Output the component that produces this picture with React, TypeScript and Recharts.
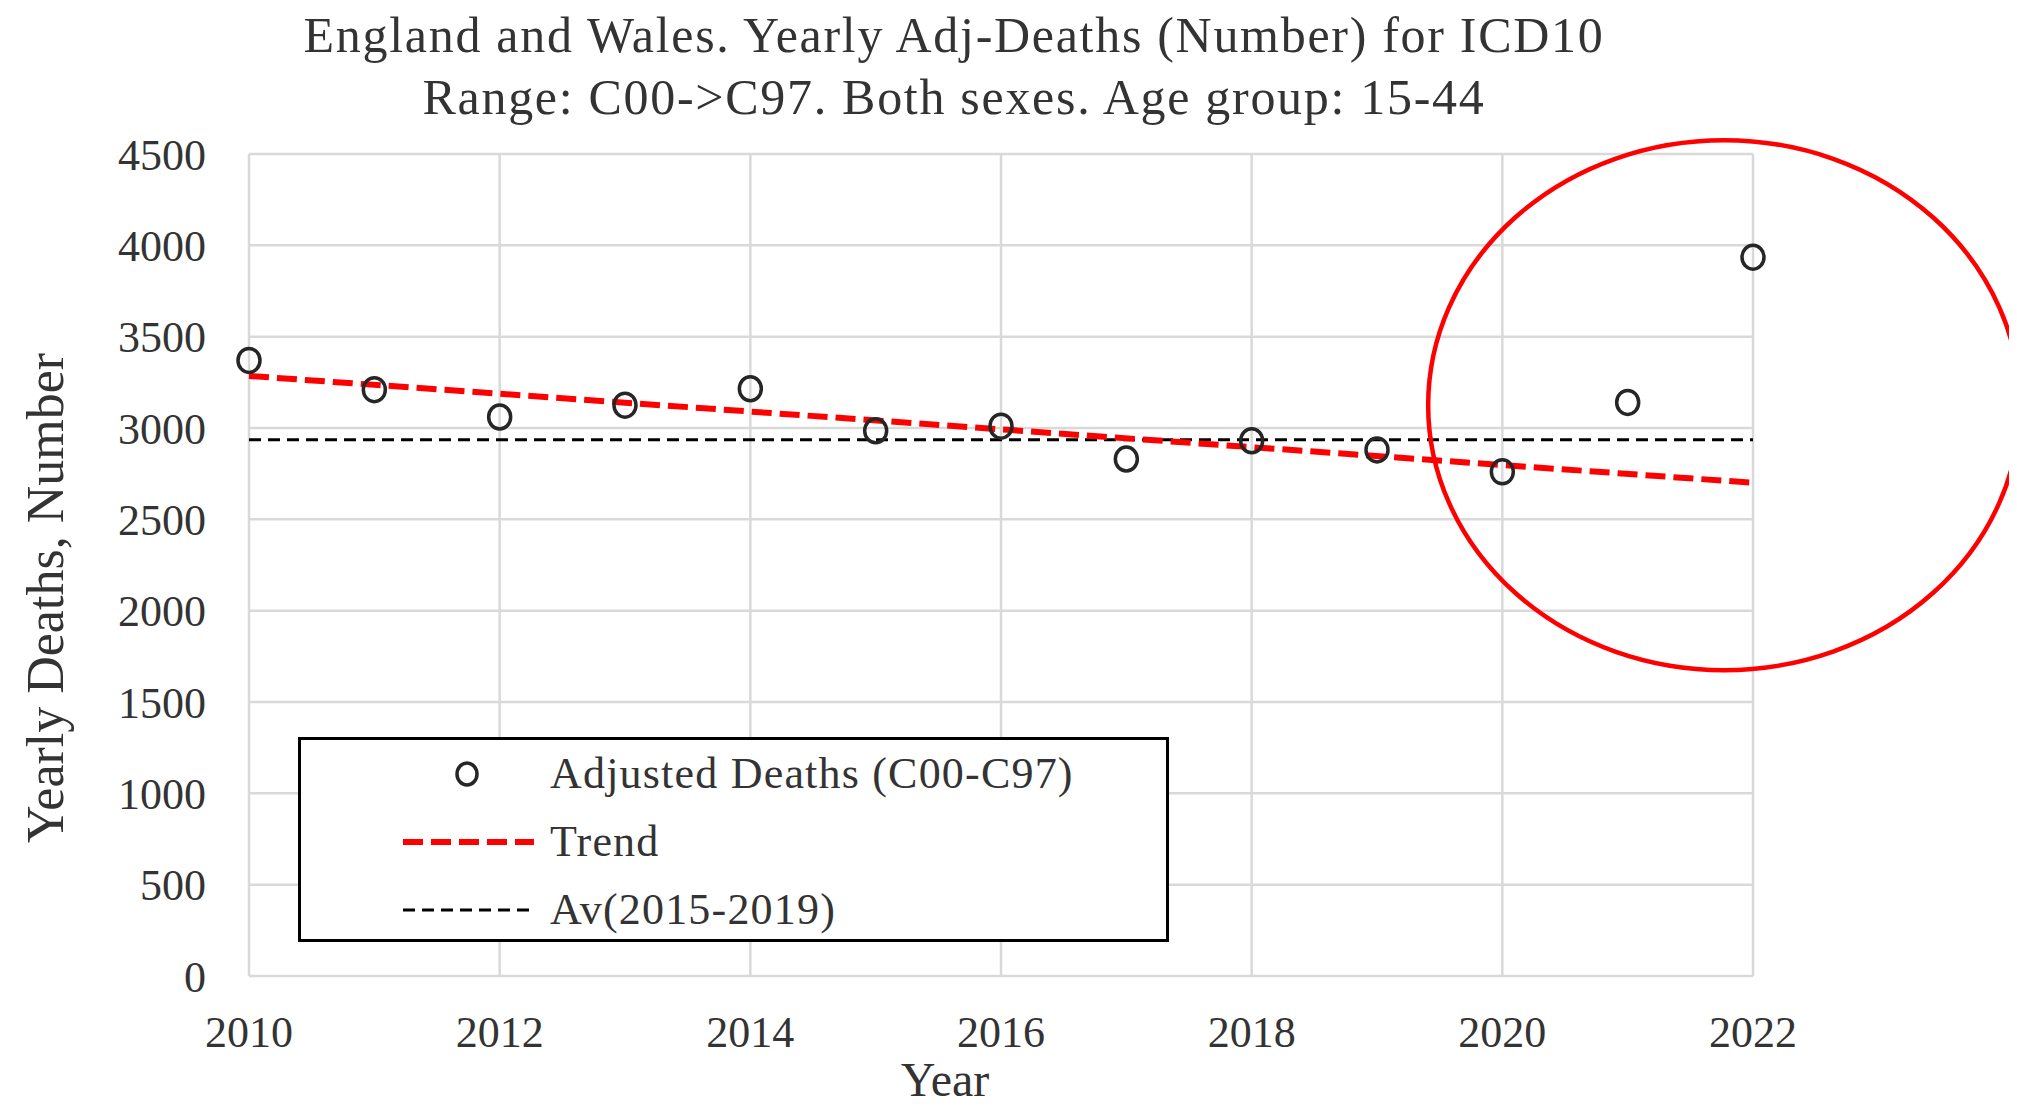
import {
  CartesianGrid,
  ComposedChart,
  Legend,
  Line,
  ReferenceDot,
  Scatter,
  XAxis,
  YAxis,
} from "recharts";

const years = [2010, 2011, 2012, 2013, 2014, 2015, 2016, 2017, 2018, 2019, 2020, 2021, 2022];
const adjDeaths = [3370, 3210, 3060, 3125, 3215, 2985, 3010, 2830, 2930, 2880, 2760, 3140, 3935];
const trendYears = [2010, 2022];
const trendValues = [3285, 2700];
const avgYears = [2010, 2022];
const avgValue = 2935;
const xTicks = [2010, 2012, 2014, 2016, 2018, 2020, 2022];
const yTicks = [0, 500, 1000, 1500, 2000, 2500, 3000, 3500, 4000, 4500];
// centre of the hand-drawn highlight
const highlight = { year: 2021.77, value: 3125 };

const deathPoints = years.map((year, i) => ({ year, deaths: adjDeaths[i] }));
const trendPoints = trendYears.map((year, i) => ({ year, value: trendValues[i] }));
const avgPoints = avgYears.map((year) => ({ year, value: avgValue }));

const FONT = '"Liberation Serif", "Times New Roman", serif';
const TEXT = "#333";

function Ring(props: any) {
  return (
    <ellipse cx={props.cx} cy={props.cy} rx={11} ry={12} fill="none" stroke="#262626" strokeWidth={3.5} />
  );
}

function LegendBox() {
  const row = (top: number, icon: any, label: string) => (
    <div style={{ position: "absolute", top, left: 0, height: 68, width: "100%" }}>
      <svg width={240} height={68} style={{ position: "absolute", left: 0, top: 0 }}>
        {icon}
      </svg>
      <span style={{ position: "absolute", left: 249, top: 6, lineHeight: "56px", whiteSpace: "nowrap" }}>
        {label}
      </span>
    </div>
  );
  return (
    <div
      style={{
        position: "relative",
        width: 871,
        height: 205,
        boxSizing: "border-box",
        border: "3px solid #000",
        background: "#fff",
        fontFamily: FONT,
        fontSize: 44,
        letterSpacing: 1.2,
        color: TEXT,
      }}
    >
      {row(0, <ellipse cx={166} cy={34} rx={10} ry={11} fill="none" stroke="#262626" strokeWidth={3.5} />, "Adjusted Deaths (C00-C97)")}
      {row(68, <line x1={102} x2={233} y1={34} y2={34} stroke="#ff0000" strokeWidth={6} strokeDasharray="20 8" />, "Trend")}
      {row(136, <line x1={102} x2={233} y1={34} y2={34} stroke="#000" strokeWidth={3} strokeDasharray="12 7" />, "Av(2015-2019)")}
    </div>
  );
}

export default function App() {
  return (
    <div style={{ position: "relative", margin: -8, width: 2017, height: 1110, background: "#fff" }}>
      <div
        style={{
          position: "absolute",
          top: 4,
          left: 0,
          width: 1908,
          textAlign: "center",
          fontFamily: FONT,
          fontSize: 50,
          letterSpacing: 1.7,
          lineHeight: "62px",
          color: TEXT,
        }}
      >
        England and Wales. Yearly Adj-Deaths (Number) for ICD10
        <br />
        Range: C00-&gt;C97. Both sexes. Age group: 15-44
      </div>
      <ComposedChart
        width={2017}
        height={1110}
        margin={{ top: 154, right: 264, left: 0, bottom: 0 }}
        style={{ position: "absolute", top: 0, left: 0 }}
      >
        <CartesianGrid stroke="#d9d9d9" strokeWidth={2.5} />
        <XAxis
          type="number"
          dataKey="year"
          domain={[2010, 2022]}
          ticks={xTicks}
          axisLine={false}
          tickLine={false}
          tickSize={0}
          tickMargin={40}
          height={134}
          tick={{ fill: TEXT, fontSize: 44, fontFamily: FONT }}
          label={{
            content: () => (
              <text x={945} y={1079} textAnchor="middle" dominantBaseline="central" fill={TEXT} fontSize={48} fontFamily={FONT}>
                Year
              </text>
            ),
          }}
        />
        <YAxis
          type="number"
          domain={[0, 4500]}
          ticks={yTicks}
          axisLine={false}
          tickLine={false}
          tickSize={0}
          tickMargin={43}
          width={249}
          tick={{ fill: TEXT, fontSize: 44, fontFamily: FONT }}
          label={{
            content: () => (
              <text
                x={45}
                y={598}
                transform="rotate(-90 45 598)"
                textAnchor="middle"
                dominantBaseline="central"
                fill={TEXT}
                fontSize={52}
                fontFamily={FONT}
              >
                Yearly Deaths, Number
              </text>
            ),
          }}
        />
        <Line
          data={avgPoints}
          dataKey="value"
          type="linear"
          stroke="#000"
          strokeWidth={3}
          strokeDasharray="12 7"
          dot={false}
          activeDot={false}
          isAnimationActive={false}
        />
        <Line
          data={trendPoints}
          dataKey="value"
          type="linear"
          stroke="#ff0000"
          strokeWidth={6}
          strokeDasharray="20 8"
          dot={false}
          activeDot={false}
          isAnimationActive={false}
        />
        <Scatter data={deathPoints} dataKey="deaths" shape={<Ring />} isAnimationActive={false} />
        <ReferenceDot
          x={highlight.year}
          y={highlight.value}
          ifOverflow="visible"
          shape={(p: any) => (
            <ellipse cx={p.cx} cy={p.cy} rx={296} ry={265} fill="none" stroke="#ff0000" strokeWidth={4.5} />
          )}
        />
        <Legend
          layout="horizontal"
          verticalAlign="middle"
          align="center"
          content={() => <LegendBox />}
          wrapperStyle={{ left: 298, top: 737, width: 871, height: 205, bottom: "auto", right: "auto" }}
        />
      </ComposedChart>
    </div>
  );
}
